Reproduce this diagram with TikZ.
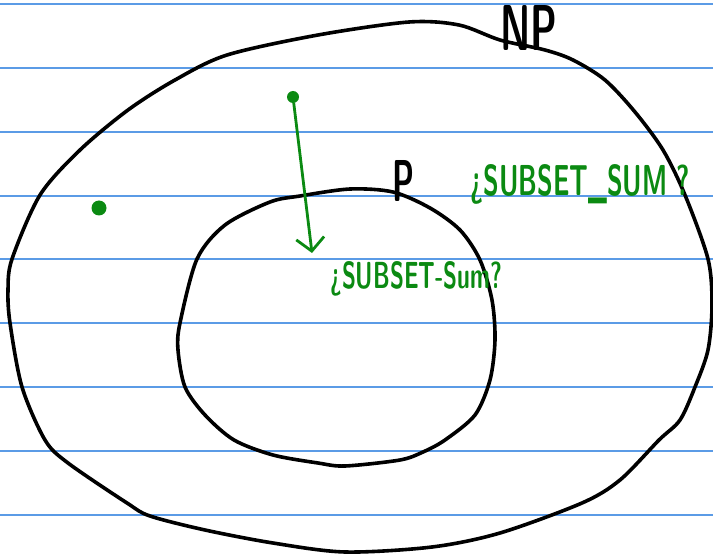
\documentclass[tikz,border=0pt]{standalone}
\usepackage{tikz}
\usepackage{graphicx}
\usetikzlibrary{arrows.meta}
\definecolor{ruleBlue}{HTML}{5B9BE6}
\definecolor{penGreen}{HTML}{0B8A12}

\begin{document}
\begin{tikzpicture}[x=1pt, y=-1pt,
    pen/.style={line width=3.6pt, line join=round, line cap=round},
    greenpen/.style={penGreen, line width=2.8pt, line cap=round, line join=round},
    inkdot/.style={circle, fill=penGreen, inner sep=0pt}]
    \useasboundingbox (0,0) rectangle (713,559);
    \foreach \y in {4,68,132,196,259,323,387,451,515}
        \draw[ruleBlue, line width=1.8pt] (0,\y) -- (713,\y);
    \draw[pen] plot[smooth cycle, tension=0.5] coordinates {
        (175,80) (227,55) (318,35) (409,22) (459,25) (500,40) (545,50)
        (573,60) (605,80) (635,112) (663,150) (685,195) (708,259) (712,305)
        (708,350) (695,387) (680,420) (659,440) (620,480) (582,503) (500,533)
        (432,547) (345,552) (273,543) (205,530) (150,516) (127,503) (68,463)
        (45,440) (22,387) (10,323) (8,290) (12,259) (40,195) (80,150) (128,110)};
    \draw[pen] plot[smooth cycle, tension=0.5] coordinates {
        (225,225) (270,202) (300,196) (350,189) (393,192) (430,208) (460,230)
        (480,260) (492,300) (495,340) (490,380) (475,415) (445,440) (423,452)
        (400,460) (345,466) (318,463) (273,455) (234,440) (205,415) (185,387)
        (178,350) (180,323) (197,259)};
    \node[anchor=base west, inner sep=0pt] (nplabel) at (500,51)
        {\resizebox{57pt}{45pt}{\sffamily\bfseries NP}};
    \node[anchor=base west, inner sep=0pt] (plabel) at (392,201)
        {\resizebox{22pt}{41pt}{\sffamily\bfseries P}};
    \node[anchor=base west, inner sep=0pt, text=penGreen] (outerq) at (470,196)
        {\resizebox{220pt}{31pt}{\sffamily\bfseries ¿SUBSET\_SUM ?}};
    \node[anchor=base west, inner sep=0pt, text=penGreen] (innerq) at (330,289)
        {\resizebox{172pt}{27pt}{\sffamily\bfseries ¿SUBSET-Sum?}};
    \node[inkdot, minimum size=15pt] (lonedot) at (99,208) {};
    \node[inkdot, minimum size=12pt] (startdot) at (293,97) {};
    \coordinate (arrowend) at (312,253);
    \draw[greenpen, -{Straight Barb[length=13pt, width=28pt]}] (startdot) -- (arrowend);
\end{tikzpicture}
\end{document}
